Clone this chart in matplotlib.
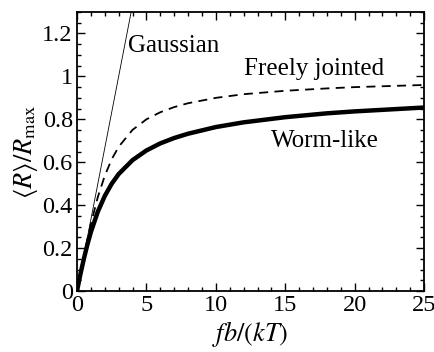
import matplotlib.pyplot as plt
from matplotlib.ticker import MultipleLocator

plt.rcParams['font.family'] = 'Liberation Serif'
plt.rcParams['mathtext.fontset'] = 'stix'

# valores
x_gauss = [0, 4]
y_gauss = [0, 1.333]

x_fj = [0, 0.25, 0.5, 0.75, 1, 1.5, 2, 2.5, 3, 4, 5, 6, 7, 8, 10, 12, 15, 18, 20, 25]
y_fj = [0, 0.083, 0.164, 0.241, 0.313, 0.438, 0.537, 0.614, 0.672, 0.751, 0.800,
        0.833, 0.857, 0.875, 0.900, 0.917, 0.933, 0.944, 0.950, 0.960]

x_wlc = [0, 0.25, 0.5, 0.75, 1, 1.5, 2, 2.5, 3, 4, 5, 6, 7, 8, 10, 12, 15, 18, 20, 25]
y_wlc = [0, 0.080, 0.152, 0.217, 0.275, 0.370, 0.443, 0.500, 0.545, 0.610, 0.655,
         0.688, 0.713, 0.733, 0.764, 0.786, 0.810, 0.828, 0.837, 0.855]

fig = plt.figure(figsize=(4.35, 3.52), dpi=100)
ax = fig.add_axes([0.177, 0.173, 0.798, 0.793])

ax.plot(x_gauss, y_gauss, color='black', lw=0.6)
ax.plot(x_fj, y_fj, color='black', lw=1.3, dashes=(5, 3.5))
ax.plot(x_wlc, y_wlc, color='black', lw=3.2)

ax.text(3.7, 1.14, 'Gaussian', fontsize=18, va='center')
ax.text(12.0, 1.035, 'Freely jointed', fontsize=18, va='center')
ax.text(14.0, 0.70, 'Worm-like', fontsize=18, va='center')

ax.set_xlim(0, 25)
ax.set_ylim(0, 1.3)
ax.set_xticks([0, 5, 10, 15, 20, 25])
ax.set_yticks([0, 0.2, 0.4, 0.6, 0.8, 1.0, 1.2])
ax.set_yticklabels(['0', '0.2', '0.4', '0.6', '0.8', '1', '1.2'])
ax.xaxis.set_minor_locator(MultipleLocator(1))
ax.yaxis.set_minor_locator(MultipleLocator(0.05))
ax.tick_params(which='both', direction='in', top=True, right=True, labelsize=17.5, width=1)
ax.tick_params(which='major', length=6, pad=3)
ax.tick_params(which='minor', length=3)
for s in ax.spines.values():
    s.set_linewidth(1.3)

ax.set_xlabel(r'$fb/(kT)$', fontsize=19, labelpad=2)
ax.set_ylabel(r'$\langle R\rangle/R_{\mathrm{max}}$', fontsize=19, labelpad=2)

fig.savefig('out.png', dpi=100)
